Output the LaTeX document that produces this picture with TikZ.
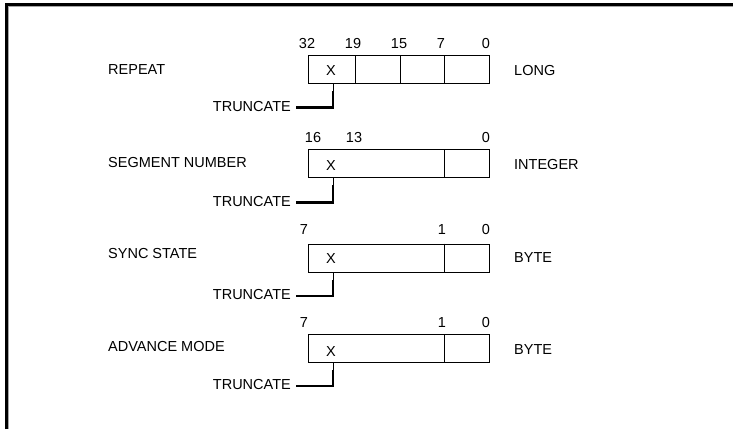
\documentclass[tikz,border=0pt]{standalone}
\usepackage{fontspec}
\setmainfont{Liberation Sans}
\begin{document}
\begin{tikzpicture}[x=1pt,y=-1pt,
  txt/.style={inner sep=0pt,font=\fontsize{14.5}{16}\selectfont},
  reg/.style={draw,line width=0.9pt,minimum width=181pt,minimum height=28pt,inner sep=0pt,anchor=north west},
  div/.style={line width=0.9pt},
  trunc/.style={line width=2.6pt},
  thin/.style={line width=1pt}]
\useasboundingbox (0,0) rectangle (733,429);
\fill[white] (0,0) rectangle (733,429);
% frame
\draw[line width=1pt,gray!70] (8.5,429) -- (8.5,6.5) -- (733,6.5);
\draw[line width=2.5pt] (6.3,429) -- (6.3,4.3) -- (733,4.3);

% ---------- row 1 ----------
\node[reg] (r1) at (308,55) {};
\draw[div] (355.5,55) -- (355.5,83);
\draw[div] (400,55) -- (400,83);
\draw[div] (444,55) -- (444,83);
\node[txt] (r1n32) at (307,44) {32};
\node[txt] (r1n19) at (353,44) {19};
\node[txt] (r1n15) at (399,44) {15};
\node[txt] (r1n7) at (441,44) {7};
\node[txt] (r1n0) at (486,44) {0};
\node[txt] (r1x) at (331,71) {X};
\node[txt,anchor=west] (r1l) at (108,70) {REPEAT};
\node[txt,anchor=west] (r1t) at (514,71) {LONG};
\node[txt,anchor=base east] (r1tr) at (291,111) {TRUNCATE};
\coordinate (r1a) at (296,107.5);
\coordinate (r1b) at (333,91);
\coordinate (r1c) at (333,83);
\draw[trunc] (r1a) -| (r1b);
\draw[thin] (r1b) -- (r1c);

% ---------- row 2 ----------
\node[reg] (r2) at (308,149) {};
\draw[div] (444,149) -- (444,177);
\node[txt] (r2n16) at (313,138) {16};
\node[txt] (r2n13) at (354,138) {13};
\node[txt] (r2n0) at (486,138) {0};
\node[txt] (r2x) at (331,165.5) {X};
\node[txt,anchor=west] (r2l) at (108,163) {SEGMENT NUMBER};
\node[txt,anchor=west] (r2t) at (514,165) {INTEGER};
\node[txt,anchor=base east] (r2tr) at (291,206) {TRUNCATE};
\coordinate (r2a) at (296,202.5);
\coordinate (r2b) at (333,185);
\coordinate (r2c) at (333,177);
\draw[trunc] (r2a) -| (r2b);
\draw[thin] (r2b) -- (r2c);

% ---------- row 3 ----------
\node[reg] (r3) at (308,243.5) {};
\draw[div] (444,243.5) -- (444,271.5);
\node[txt] (r3n7) at (304,230) {7};
\node[txt] (r3n1) at (442,230) {1};
\node[txt] (r3n0) at (486,230) {0};
\node[txt] (r3x) at (331,259) {X};
\node[txt,anchor=west] (r3l) at (108,254) {SYNC STATE};
\node[txt,anchor=west] (r3t) at (514,258) {BYTE};
\node[txt,anchor=base east] (r3tr) at (291,299.5) {TRUNCATE};
\coordinate (r3a) at (296,296);
\coordinate (r3b) at (333,279.5);
\coordinate (r3c) at (333,271.5);
\draw[trunc] (r3a) -| (r3b);
\draw[thin] (r3b) -- (r3c);

% ---------- row 4 ----------
\node[reg] (r4) at (308,334) {};
\draw[div] (444,334) -- (444,362);
\node[txt] (r4n7) at (304,323) {7};
\node[txt] (r4n1) at (442,323) {1};
\node[txt] (r4n0) at (486,323) {0};
\node[txt] (r4x) at (331,351.5) {X};
\node[txt,anchor=west] (r4l) at (108,346) {ADVANCE MODE};
\node[txt,anchor=west] (r4t) at (514,350) {BYTE};
\node[txt,anchor=base east] (r4tr) at (291,389.5) {TRUNCATE};
\coordinate (r4a) at (296,386);
\coordinate (r4b) at (333,370);
\coordinate (r4c) at (333,362);
\draw[trunc] (r4a) -| (r4b);
\draw[thin] (r4b) -- (r4c);
\end{tikzpicture}
\end{document}
